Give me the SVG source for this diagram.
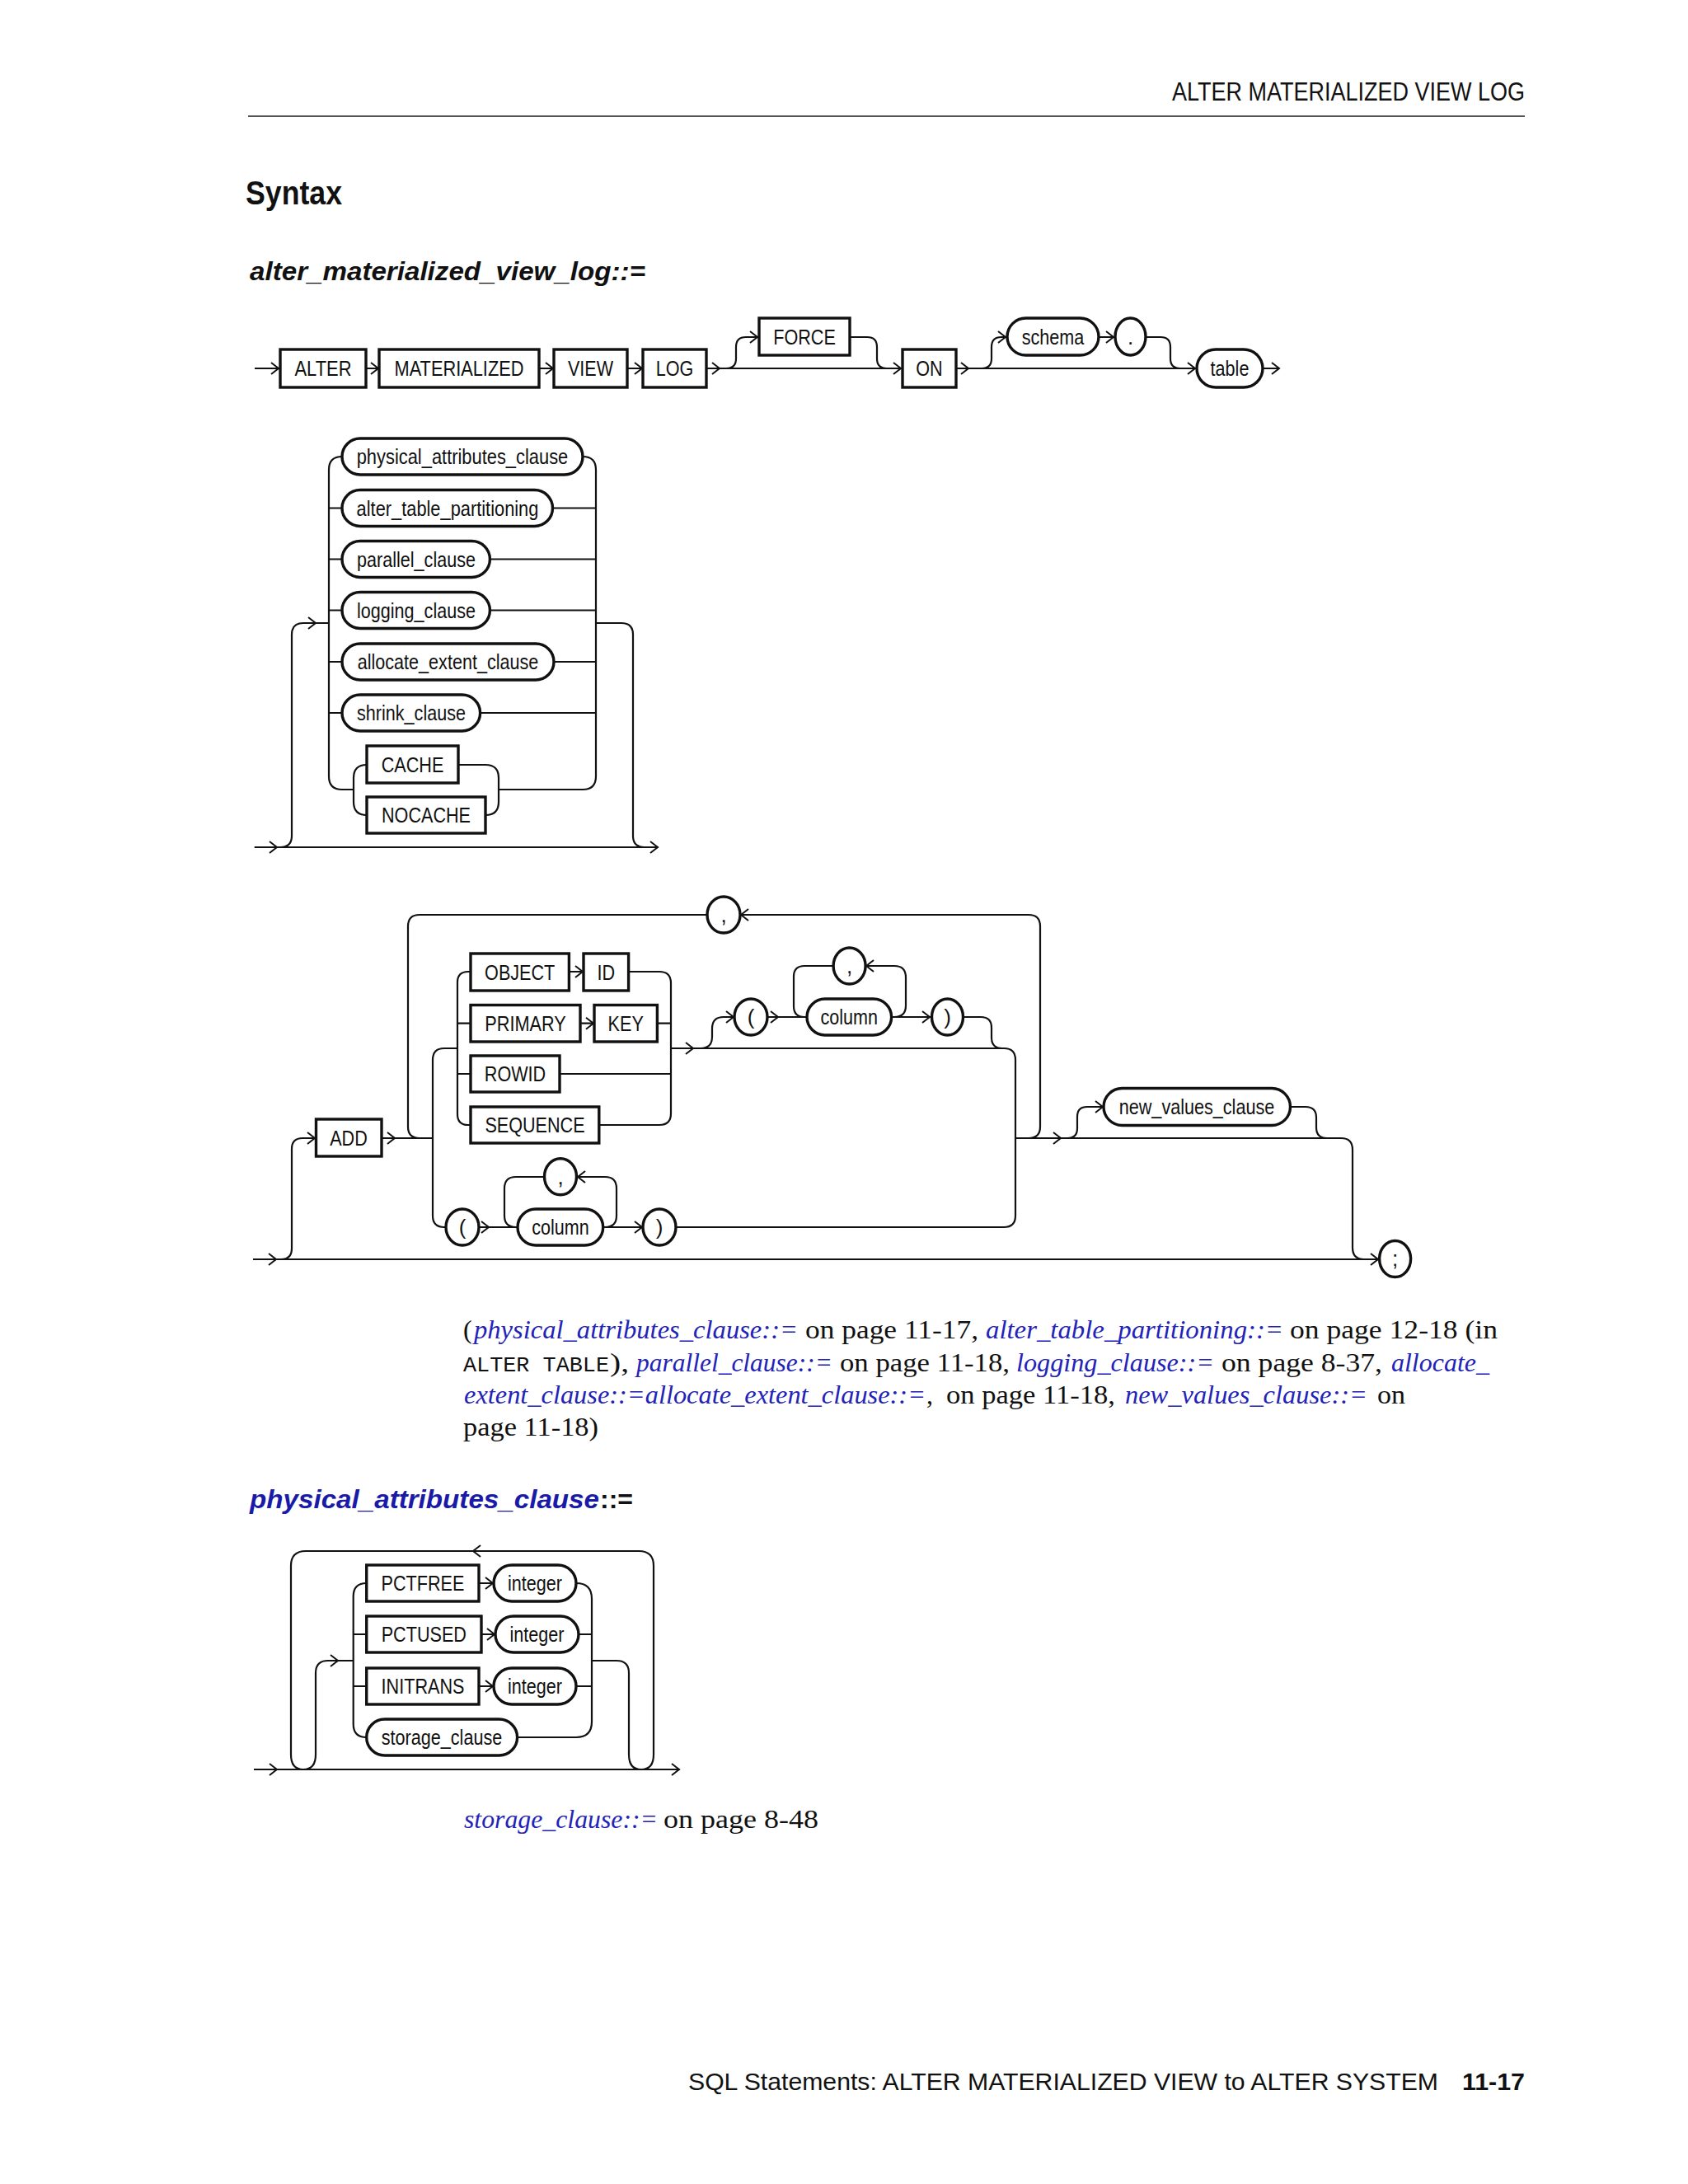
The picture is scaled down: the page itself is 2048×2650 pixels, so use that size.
<svg xmlns="http://www.w3.org/2000/svg" xmlns:xlink="http://www.w3.org/1999/xlink" width="2048" height="2650" viewBox="0 0 2048 2650">
<style>
.ln{fill:none;stroke:#111;stroke-width:2.2}
.bx{fill:#fff;stroke:#111;stroke-width:3.4}
.ch{fill:none;stroke:#111;stroke-width:2}
.t{font-family:"Liberation Sans Narrow","Liberation Sans",Arial,sans-serif;font-size:26px;fill:#111;text-anchor:middle}
.p{font-family:"Liberation Sans",Arial,sans-serif;font-size:26px;fill:#111;text-anchor:middle}
.hd{font-family:"Liberation Sans Narrow","Liberation Sans",Arial,sans-serif;fill:#111}
.sf{font-family:"Liberation Serif","Times New Roman",serif;font-size:32px;fill:#111}
.bl{font-style:italic;fill:#2323b8}
.mono{font-family:"Liberation Mono","Courier New",monospace;font-size:26px;fill:#111}
</style>
<defs>
<path id="ar" class="ch" d="M-9,-7 L0,0 L-9,7"/>
<path id="al" class="ch" d="M9,-7 L0,0 L9,7"/>
</defs>
<rect width="2048" height="2650" fill="#fff"/>

<!-- Header -->
<g id="header">
<text class="hd" x="1850" y="122" font-size="32" text-anchor="end" textLength="428" lengthAdjust="spacingAndGlyphs">ALTER MATERIALIZED VIEW LOG</text>
<line x1="301" y1="141" x2="1850" y2="141" stroke="#555" stroke-width="2"/>
<text class="hd" x="298" y="248" font-size="40" font-weight="bold" textLength="117" lengthAdjust="spacingAndGlyphs">Syntax</text>
<text x="303" y="340" font-family="Liberation Sans, Arial, sans-serif" font-size="32" font-weight="bold" font-style="italic" fill="#111" textLength="480" lengthAdjust="spacingAndGlyphs">alter_materialized_view_log::=</text>
</g>

<!-- Diagram 1 connectors -->
<g id="connectors-d1">
<path class="ln" d="M309,447 H340 M444,447 H460 M654,447 H672 M761,447 H780 M857,447 H1095 M1160,447 H1452 M1532,447 H1552 M1333,409 H1353"/>
<path class="ln" d="M881,447 Q893,447 893,435 V421 Q893,409 905,409 H921"/>
<path class="ln" d="M1031,409 H1052 Q1064,409 1064,421 V435 Q1064,447 1076,447"/>
<path class="ln" d="M1191,447 Q1203,447 1203,435 V421 Q1203,409 1215,409 H1222"/>
<path class="ln" d="M1390,409 H1408 Q1420,409 1420,421 V435 Q1420,447 1432,447"/>
<use href="#ar" x="338" y="447"/><use href="#ar" x="459" y="447"/><use href="#ar" x="671" y="447"/><use href="#ar" x="779" y="447"/>
<use href="#ar" x="873" y="447"/><use href="#ar" x="919" y="409"/><use href="#ar" x="1093" y="447"/><use href="#ar" x="1175" y="447"/>
<use href="#ar" x="1220" y="409"/><use href="#ar" x="1351" y="409"/><use href="#ar" x="1450" y="447"/><use href="#ar" x="1552" y="447"/>
</g>
<g id="n-alter"><rect class="bx" x="340" y="424" width="104" height="46"/><text class="t" x="392" y="456" textLength="69" lengthAdjust="spacingAndGlyphs">ALTER</text></g>
<g id="n-materialized"><rect class="bx" x="460" y="424" width="194" height="46"/><text class="t" x="557" y="456" textLength="157" lengthAdjust="spacingAndGlyphs">MATERIALIZED</text></g>
<g id="n-view"><rect class="bx" x="672" y="424" width="89" height="46"/><text class="t" x="716.5" y="456" textLength="55" lengthAdjust="spacingAndGlyphs">VIEW</text></g>
<g id="n-log"><rect class="bx" x="780" y="424" width="77" height="46"/><text class="t" x="818.5" y="456" textLength="45.6" lengthAdjust="spacingAndGlyphs">LOG</text></g>
<g id="n-force"><rect class="bx" x="921" y="386" width="110" height="45"/><text class="t" x="976" y="418" textLength="75.6" lengthAdjust="spacingAndGlyphs">FORCE</text></g>
<g id="n-on"><rect class="bx" x="1095" y="424" width="65" height="46"/><text class="t" x="1127.5" y="456" textLength="32.4" lengthAdjust="spacingAndGlyphs">ON</text></g>
<g id="n-schema"><rect class="bx" x="1222" y="386" width="111" height="45" rx="22.5"/><text class="t" x="1277.5" y="418" textLength="75.6" lengthAdjust="spacingAndGlyphs">schema</text></g>
<g id="n-dot"><ellipse class="bx" cx="1371.5" cy="408.5" rx="18.5" ry="22.5"/><text class="p" x="1371.5" y="418">.</text></g>
<g id="n-table"><rect class="bx" x="1452" y="424" width="80" height="46" rx="23"/><text class="t" x="1492" y="456" textLength="46.8" lengthAdjust="spacingAndGlyphs">table</text></g>

<!-- Diagram 2 connectors -->
<g id="connectors-d2">
<path class="ln" d="M308.7,1028 H798.7"/>
<path class="ln" d="M340,1028 Q354,1028 354,1014 V770 Q354,756 368,756 H399"/>
<path class="ln" d="M723,756 H754 Q768,756 768,770 V1014 Q768,1028 782,1028"/>
<path class="ln" d="M415,554 Q399,554 399,570 V942 Q399,958 415,958 H429"/>
<path class="ln" d="M399,616.5 H415 M399,678.5 H415 M399,740.5 H415 M399,803 H415 M399,865 H415"/>
<path class="ln" d="M707,554 Q723,554 723,570 V942 Q723,958 707,958 H605"/>
<path class="ln" d="M670.5,616.5 H723 M594.4,678.5 H723 M594.4,740.5 H723 M672,803 H723 M582.6,865 H723"/>
<path class="ln" d="M445,928 Q429,928 429,944 V973 Q429,989 445,989"/>
<path class="ln" d="M556,928 H589 Q605,928 605,944 V973 Q605,989 589,989"/>
<use href="#ar" x="336" y="1028"/><use href="#ar" x="383" y="756"/><use href="#ar" x="798" y="1028"/>
</g>
<g id="n-physical"><rect class="bx" x="415" y="532" width="292" height="44" rx="22"/><text class="t" x="561" y="563" textLength="256.6" lengthAdjust="spacingAndGlyphs">physical_attributes_clause</text></g>
<g id="n-alter-table-partitioning"><rect class="bx" x="415" y="594.5" width="255.5" height="44" rx="22"/><text class="t" x="543" y="625.5" textLength="220.8" lengthAdjust="spacingAndGlyphs">alter_table_partitioning</text></g>
<g id="n-parallel"><rect class="bx" x="415" y="656.5" width="179.4" height="44" rx="22"/><text class="t" x="505" y="687.5" textLength="144" lengthAdjust="spacingAndGlyphs">parallel_clause</text></g>
<g id="n-logging"><rect class="bx" x="415" y="718.5" width="179.4" height="44" rx="22"/><text class="t" x="505" y="749.5" textLength="144" lengthAdjust="spacingAndGlyphs">logging_clause</text></g>
<g id="n-allocate"><rect class="bx" x="415" y="781" width="257" height="44" rx="22"/><text class="t" x="543.5" y="812" textLength="219.7" lengthAdjust="spacingAndGlyphs">allocate_extent_clause</text></g>
<g id="n-shrink"><rect class="bx" x="415" y="843" width="167.6" height="44" rx="22"/><text class="t" x="499" y="874" textLength="132" lengthAdjust="spacingAndGlyphs">shrink_clause</text></g>
<g id="n-cache"><rect class="bx" x="445" y="905" width="111" height="45"/><text class="t" x="500.5" y="937" textLength="75.6" lengthAdjust="spacingAndGlyphs">CACHE</text></g>
<g id="n-nocache"><rect class="bx" x="445" y="967" width="144" height="44"/><text class="t" x="517" y="998" textLength="108" lengthAdjust="spacingAndGlyphs">NOCACHE</text></g>

<!-- Diagram 3 connectors -->
<g id="connectors-d3">
<path class="ln" d="M307,1528 H1673"/>
<path class="ln" d="M341,1528 Q354,1528 354,1515 V1394 Q354,1381 367,1381 H383.5"/>
<path class="ln" d="M463,1381 H525"/>
<path class="ln" d="M1248,1381 Q1262,1381 1262,1367 V1124 Q1262,1110 1248,1110 H898 M858,1110 H509 Q495,1110 495,1124 V1367 Q495,1381 509,1381"/>
<path class="ln" d="M555,1272 H539 Q525,1272 525,1286 V1475 Q525,1489 539,1489 H541"/>
<path class="ln" d="M571,1179 H568 Q555,1179 555,1192 V1352 Q555,1365 568,1365 H571 M555,1241.7 H571 M555,1303 H571"/>
<path class="ln" d="M690.4,1179 H708 M704,1241.7 H721"/>
<path class="ln" d="M762.6,1179 H800 Q814,1179 814,1193 V1351 Q814,1365 800,1365 H726.8 M797.4,1241.7 H814 M679,1303 H814"/>
<path class="ln" d="M814,1272 H1218 Q1232,1272 1232,1286 V1475 Q1232,1489 1218,1489 H820"/>
<path class="ln" d="M850,1272 Q864,1272 864,1258 V1248 Q864,1234 878,1234 H891 M931,1234 H979"/>
<path class="ln" d="M1011,1172 H976 Q963,1172 963,1185 V1221 Q963,1234 976,1234"/>
<path class="ln" d="M1081.6,1234 H1130.5 M1050,1172 H1085 Q1099,1172 1099,1186 V1220 Q1099,1234 1085,1234"/>
<path class="ln" d="M1168.4,1234 H1190 Q1203,1234 1203,1247 V1259 Q1203,1272 1216,1272"/>
<path class="ln" d="M1232,1381 H1627 Q1641,1381 1641,1395 V1514 Q1641,1528 1655,1528"/>
<path class="ln" d="M1295,1381 Q1307,1381 1307,1369 V1355 Q1307,1343 1319,1343 H1339"/>
<path class="ln" d="M1565.5,1343 H1584 Q1597,1343 1597,1356 V1368 Q1597,1381 1610,1381"/>
<path class="ln" d="M581,1489 H628 M660.5,1428 H626 Q612,1428 612,1442 V1475 Q612,1489 626,1489"/>
<path class="ln" d="M731.7,1489 H780 M700,1428 H734 Q748,1428 748,1442 V1475 Q748,1489 734,1489"/>
<use href="#ar" x="335" y="1528"/><use href="#ar" x="382" y="1381"/><use href="#ar" x="479" y="1381"/>
<use href="#ar" x="707" y="1179"/><use href="#ar" x="720" y="1241.7"/><use href="#ar" x="841" y="1272"/>
<use href="#ar" x="890" y="1234"/><use href="#ar" x="944" y="1234"/><use href="#ar" x="1128" y="1234"/>
<use href="#ar" x="1287" y="1381"/><use href="#ar" x="1338" y="1343"/><use href="#ar" x="1672" y="1528"/>
<use href="#ar" x="593" y="1489"/><use href="#ar" x="779" y="1489"/>
<use href="#al" x="899" y="1110"/><use href="#al" x="1051" y="1172"/><use href="#al" x="701" y="1428"/>
</g>
<g id="n-add"><rect class="bx" x="383.5" y="1358" width="79.5" height="45"/><text class="t" x="423" y="1390" textLength="45.6" lengthAdjust="spacingAndGlyphs">ADD</text></g>
<g id="n-comma1"><ellipse class="bx" cx="878" cy="1110" rx="20" ry="22"/><text class="p" x="878" y="1119">,</text></g>
<g id="n-object"><rect class="bx" x="571" y="1157" width="119.4" height="45"/><text class="t" x="630.7" y="1189" textLength="85.2" lengthAdjust="spacingAndGlyphs">OBJECT</text></g>
<g id="n-id"><rect class="bx" x="708" y="1157" width="54.6" height="45"/><text class="t" x="735.3" y="1189" textLength="21.6" lengthAdjust="spacingAndGlyphs">ID</text></g>
<g id="n-primary"><rect class="bx" x="571" y="1219.5" width="133" height="44.5"/><text class="t" x="637.5" y="1251" textLength="98.4" lengthAdjust="spacingAndGlyphs">PRIMARY</text></g>
<g id="n-key"><rect class="bx" x="721" y="1219.5" width="76.4" height="44.5"/><text class="t" x="759.2" y="1251" textLength="43.2" lengthAdjust="spacingAndGlyphs">KEY</text></g>
<g id="n-rowid"><rect class="bx" x="571" y="1281" width="108" height="44"/><text class="t" x="625" y="1312" textLength="74.4" lengthAdjust="spacingAndGlyphs">ROWID</text></g>
<g id="n-sequence"><rect class="bx" x="571" y="1343" width="155.8" height="44"/><text class="t" x="649" y="1374" textLength="121.2" lengthAdjust="spacingAndGlyphs">SEQUENCE</text></g>
<g id="n-lparen1"><ellipse class="bx" cx="911" cy="1234" rx="20" ry="22"/><text class="p" x="911" y="1243">(</text></g>
<g id="n-column1"><rect class="bx" x="979" y="1212" width="102.6" height="44" rx="22"/><text class="t" x="1030.3" y="1243" textLength="69.6" lengthAdjust="spacingAndGlyphs">column</text></g>
<g id="n-comma2"><ellipse class="bx" cx="1030.6" cy="1172" rx="19.5" ry="22"/><text class="p" x="1030.6" y="1181">,</text></g>
<g id="n-rparen1"><ellipse class="bx" cx="1149.5" cy="1234" rx="19" ry="22"/><text class="p" x="1149.5" y="1243">)</text></g>
<g id="n-lparen2"><ellipse class="bx" cx="561" cy="1489" rx="20" ry="22"/><text class="p" x="561" y="1498">(</text></g>
<g id="n-column2"><rect class="bx" x="628" y="1467" width="103.7" height="44" rx="22"/><text class="t" x="680" y="1498" textLength="69.6" lengthAdjust="spacingAndGlyphs">column</text></g>
<g id="n-comma3"><ellipse class="bx" cx="680" cy="1427.7" rx="19.5" ry="22"/><text class="p" x="680" y="1437">,</text></g>
<g id="n-rparen2"><ellipse class="bx" cx="800" cy="1489" rx="20" ry="22"/><text class="p" x="800" y="1498">)</text></g>
<g id="n-new-values"><rect class="bx" x="1339" y="1320.5" width="226.5" height="45" rx="22.5"/><text class="t" x="1452" y="1352" textLength="188.5" lengthAdjust="spacingAndGlyphs">new_values_clause</text></g>
<g id="n-semicolon"><ellipse class="bx" cx="1692.6" cy="1527.5" rx="19" ry="22"/><text class="p" x="1692.6" y="1536">;</text></g>

<!-- Paragraph -->
<g id="para">
<text class="sf" x="562" y="1624">(</text>
<text class="sf bl" x="575" y="1624" textLength="393" lengthAdjust="spacingAndGlyphs">physical_attributes_clause::=</text>
<text class="sf" x="977" y="1624" textLength="210" lengthAdjust="spacingAndGlyphs">on page 11-17,</text>
<text class="sf bl" x="1196" y="1624" textLength="361" lengthAdjust="spacingAndGlyphs">alter_table_partitioning::=</text>
<text class="sf" x="1565" y="1624" textLength="252" lengthAdjust="spacingAndGlyphs">on page 12-18 (in</text>
<text class="mono" x="562" y="1664" textLength="177" lengthAdjust="spacingAndGlyphs">ALTER TABLE</text>
<text class="sf" x="740" y="1664" textLength="23" lengthAdjust="spacingAndGlyphs">),</text>
<text class="sf bl" x="772" y="1664" textLength="238" lengthAdjust="spacingAndGlyphs">parallel_clause::=</text>
<text class="sf" x="1019" y="1664" textLength="206" lengthAdjust="spacingAndGlyphs">on page 11-18,</text>
<text class="sf bl" x="1233" y="1664" textLength="240" lengthAdjust="spacingAndGlyphs">logging_clause::=</text>
<text class="sf" x="1482" y="1664" textLength="195" lengthAdjust="spacingAndGlyphs">on page 8-37,</text>
<text class="sf bl" x="1688" y="1664" textLength="119" lengthAdjust="spacingAndGlyphs">allocate_</text>
<text class="sf bl" x="563" y="1703" textLength="560" lengthAdjust="spacingAndGlyphs">extent_clause::=allocate_extent_clause::=</text>
<text class="sf" x="1124" y="1703">,</text>
<text class="sf" x="1148" y="1703" textLength="205" lengthAdjust="spacingAndGlyphs">on page 11-18,</text>
<text class="sf bl" x="1365" y="1703" textLength="294" lengthAdjust="spacingAndGlyphs">new_values_clause::=</text>
<text class="sf" x="1671" y="1703" textLength="34" lengthAdjust="spacingAndGlyphs">on</text>
<text class="sf" x="562" y="1742" textLength="164" lengthAdjust="spacingAndGlyphs">page 11-18)</text>
</g>

<!-- Section 2 title -->
<g id="title2">
<text x="303" y="1830" font-family="Liberation Sans, Arial, sans-serif" font-size="32" font-weight="bold" font-style="italic" fill="#1a1aa8" textLength="424" lengthAdjust="spacingAndGlyphs">physical_attributes_clause</text>
<text x="728" y="1830" font-family="Liberation Sans, Arial, sans-serif" font-size="32" font-weight="bold" fill="#111" textLength="40" lengthAdjust="spacingAndGlyphs">::=</text>
</g>

<!-- Diagram 4 connectors -->
<g id="connectors-d4">
<path class="ln" d="M308,2147 H824.6"/>
<path class="ln" d="M353,1900 Q353,1882 371,1882 H775 Q793,1882 793,1900 V2129 Q793,2147 778,2147 Q763,2147 763,2129 V2030 Q763,2015 748,2015 H718"/>
<path class="ln" d="M353,1900 V2129 Q353,2147 368,2147 Q383,2147 383,2129 V2030 Q383,2015 398,2015 H428.7"/>
<path class="ln" d="M444.7,1921 Q428.7,1921 428.7,1937 V2092 Q428.7,2108 444.7,2108 M428.7,1983 H444.7 M428.7,2046 H444.7"/>
<path class="ln" d="M699,1921 Q718,1921 718,1940 V2089 Q718,2108 699,2108 H627.6 M702,1983 H718 M699,2046 H718"/>
<path class="ln" d="M581,1921 H599 M584,1983 H601 M581,2046 H599"/>
<use href="#ar" x="336" y="2147"/><use href="#ar" x="410" y="2015"/><use href="#ar" x="598" y="1921"/>
<use href="#ar" x="600" y="1983"/><use href="#ar" x="598" y="2046"/><use href="#ar" x="824" y="2147"/>
<use href="#al" x="574" y="1882"/>
</g>
<g id="n-pctfree"><rect class="bx" x="444.7" y="1899" width="136.3" height="44"/><text class="t" x="513" y="1930" textLength="100.8" lengthAdjust="spacingAndGlyphs">PCTFREE</text></g>
<g id="n-integer1"><rect class="bx" x="599" y="1899" width="100" height="44" rx="22"/><text class="t" x="649" y="1930" textLength="66" lengthAdjust="spacingAndGlyphs">integer</text></g>
<g id="n-pctused"><rect class="bx" x="444.7" y="1961" width="139.3" height="44"/><text class="t" x="514.3" y="1992" textLength="103.2" lengthAdjust="spacingAndGlyphs">PCTUSED</text></g>
<g id="n-integer2"><rect class="bx" x="601" y="1961" width="101" height="44" rx="22"/><text class="t" x="651.5" y="1992" textLength="66" lengthAdjust="spacingAndGlyphs">integer</text></g>
<g id="n-initrans"><rect class="bx" x="444.7" y="2024" width="136.3" height="44"/><text class="t" x="513" y="2055" textLength="100.8" lengthAdjust="spacingAndGlyphs">INITRANS</text></g>
<g id="n-integer3"><rect class="bx" x="599" y="2024" width="100" height="44" rx="22"/><text class="t" x="649" y="2055" textLength="66" lengthAdjust="spacingAndGlyphs">integer</text></g>
<g id="n-storage"><rect class="bx" x="444.7" y="2086" width="182.9" height="44" rx="22"/><text class="t" x="536" y="2117" textLength="146.5" lengthAdjust="spacingAndGlyphs">storage_clause</text></g>

<g id="storage-ref">
<text class="sf bl" x="563" y="2218" textLength="235" lengthAdjust="spacingAndGlyphs">storage_clause::=</text>
<text class="sf" x="805" y="2218" textLength="188" lengthAdjust="spacingAndGlyphs">on page 8-48</text>
</g>

<g id="footer">
<text x="835" y="2536" font-family="Liberation Sans, Arial, sans-serif" font-size="30" fill="#111" textLength="910" lengthAdjust="spacingAndGlyphs">SQL Statements: ALTER MATERIALIZED VIEW to ALTER SYSTEM</text>
<text x="1850" y="2536" font-family="Liberation Sans, Arial, sans-serif" font-size="30" font-weight="bold" fill="#111" text-anchor="end" textLength="76" lengthAdjust="spacingAndGlyphs">11-17</text>
</g>
</svg>
